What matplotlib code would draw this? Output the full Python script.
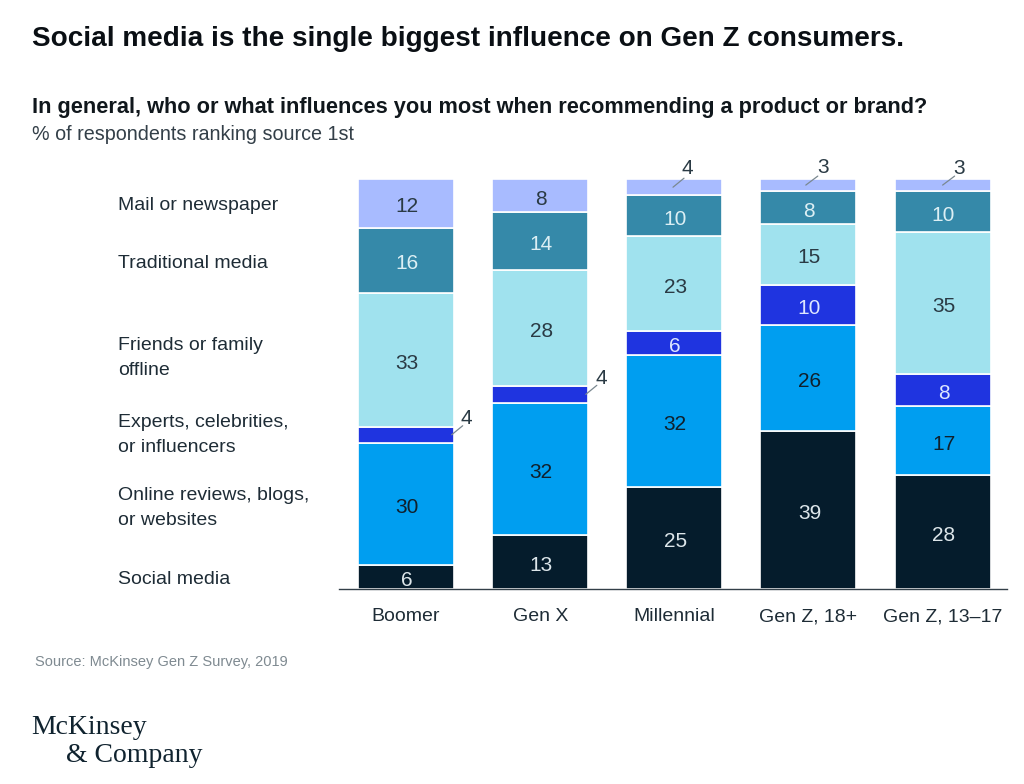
import numpy as np
import matplotlib
matplotlib.use("Agg")
import matplotlib.pyplot as plt

W, H = 1024, 784

groups = ["Boomer", "Gen X", "Millennial", "Gen Z, 18+", "Gen Z, 13–17"]
social = [6, 13, 25, 39, 28]
online = [30, 32, 32, 26, 17]
experts = [4, 4, 6, 10, 8]
friends = [33, 28, 23, 15, 35]
traditional = [16, 14, 10, 8, 10]
mail = [12, 8, 4, 3, 3]

series = [social, online, experts, friends, traditional, mail]
colors = ["#051C2C", "#009EF0", "#1F34E0", "#A0E2EE", "#3589A9", "#A8BBFF"]
text_colors = ["#DDE6EA", "#10202C", "#DDE6FF", "#2A3A44", "#DCEFF4", "#2A3A44"]

plt.rcParams["font.family"] = ["Liberation Sans", "DejaVu Sans"]

fig = plt.figure(figsize=(W / 100, H / 100), dpi=100)
fig.patch.set_facecolor("white")


def fx(px):
    return px / W


def fy(py):
    return 1 - py / H


# axes runs from the baseline to the top of the bars
ax = fig.add_axes([fx(339), fy(589), (1007 - 339) / W, (589 - 179) / H])
x = np.arange(len(groups))
vals = np.array(series, dtype=float)
totals = vals.sum(axis=0)
shares = vals / totals * 100  # the bars are all drawn to full height

bottom = np.zeros(len(groups))
for i in range(len(series)):
    ax.bar(x, shares[i], bottom=bottom, width=0.716, color=colors[i],
           edgecolor="white", linewidth=1.2)
    for j in range(len(groups)):
        # small ones get a leader line further down
        if i == 5 and j >= 2:
            continue
        if i == 2 and j < 2:
            continue
        ax.text(x[j] + 0.007, bottom[j] + shares[i][j] / 2 - 0.4, str(series[i][j]), ha="center",
                va="center_baseline", fontsize=15, color=text_colors[i])
    bottom += shares[i]


def leader(j, i, xpos, dx, dy, ldx, ldy):
    base = shares[:i, j].sum()
    y = base + shares[i][j] / 2
    ax.annotate("", xy=(xpos, y), xytext=(ldx, ldy), textcoords="offset pixels",
                arrowprops=dict(arrowstyle="-", color="#7A8890", lw=0.9,
                                shrinkA=0, shrinkB=0), annotation_clip=False)
    ax.annotate(str(series[i][j]), xy=(xpos, y), xytext=(dx, dy),
                textcoords="offset pixels", ha="center", va="center_baseline",
                fontsize=15, color="#2A3A44", annotation_clip=False)


leader(0, 2, 0.34, 15, 18, 11, 9)
leader(1, 2, 1.34, 16, 18, 11, 9)
leader(2, 5, 1.99, 14, 21, 11, 9)
leader(3, 5, 2.98, 17, 20, 12, 9)
leader(4, 5, 4.0, 16, 19, 12, 9)

ax.set_xlim(-0.5, 4.48)
ax.set_ylim(0, 100)
ax.set_yticks([])
ax.set_xticks(x)
ax.set_xticklabels(groups, fontsize=14, color="#1E2C36")
ax.tick_params(axis="x", length=0, pad=14)
for s in ["top", "left", "right"]:
    ax.spines[s].set_visible(False)
ax.spines["bottom"].set_color("#333F48")
ax.spines["bottom"].set_linewidth(1.0)
ax.patch.set_alpha(0)

fig.text(fx(32), fy(39), "Social media is the single biggest influence on Gen Z consumers.",
         fontsize=20.1, fontweight="bold", color="#0A0F14", va="center")
fig.text(fx(32), fy(108), "In general, who or what influences you most when recommending a product or brand?",
         fontsize=15.7, fontweight="bold", color="#10171C", va="center")
fig.text(fx(32), fy(135), "% of respondents ranking source 1st", fontsize=14.2,
         color="#333F48", va="center")

legend_labels = ["Mail or newspaper", "Traditional media", "Friends or family\noffline",
                 "Experts, celebrities,\nor influencers", "Online reviews, blogs,\nor websites",
                 "Social media"]
legend_y = [206, 263, 358, 435, 508, 580]
for lab, ly in zip(legend_labels, legend_y):
    fig.text(fx(118), fy(ly), lab, fontsize=14, color="#1E2C36", va="center", linespacing=1.67)

fig.text(fx(35), fy(662), "Source: McKinsey Gen Z Survey, 2019", fontsize=10.5,
         color="#7F8A91", va="center")
fig.text(fx(31), fy(728), "McKinsey", fontsize=20, family="Liberation Serif",
         color="#10232F", va="center")
fig.text(fx(66), fy(755), "& Company", fontsize=20, family="Liberation Serif",
         color="#10232F", va="center")

fig.savefig("out.png", dpi=100)
